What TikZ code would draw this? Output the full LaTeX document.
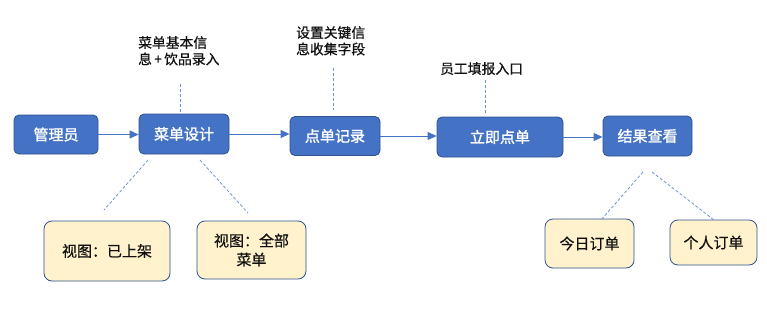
\documentclass[tikz,border=0pt]{standalone}
\usepackage{fontspec}
\usetikzlibrary{arrows.meta}
\newfontfamily\cjk{Noto Sans CJK SC}[FakeBold=0.6]
\newfontfamily\cjkbf{Noto Sans CJK SC}[FakeBold=1.6]
\definecolor{flowBlue}{HTML}{4472C4}
\definecolor{flowEdge}{HTML}{2F528F}
\definecolor{flowCream}{HTML}{FFF2CC}
\definecolor{flowDash}{HTML}{6F93D6}
\definecolor{flowText}{HTML}{111111}

\begin{document}
\begin{tikzpicture}[x=1pt,y=-1pt,font=\cjk\fontsize{13.8}{16.5}\selectfont,
  stepbox/.style={draw=flowEdge,fill=flowBlue,rounded corners=5pt,line width=0.8pt,
    text=white,font=\cjkbf\fontsize{15}{18}\selectfont,inner sep=0pt},
  viewbox/.style={draw=flowEdge,fill=flowCream,rounded corners=8pt,line width=0.8pt,
    text=flowText,font=\cjk\fontsize{15}{19}\selectfont,inner sep=0pt,align=center},
  note/.style={text=flowText,align=left,inner sep=0pt},
  flow/.style={flowBlue,line width=1pt,-{Triangle[length=9pt,width=8pt]}},
  dashline/.style={flowDash,line width=0.8pt,dash pattern=on 3pt off 2pt}]
  \useasboundingbox (0,0) rectangle (767,313);

  % main flow
  \node[stepbox,minimum width=84pt,minimum height=39pt] (admin) at (56,134.5) {管理员};
  \node[stepbox,minimum width=90pt,minimum height=40pt] (design) at (184,134) {菜单设计};
  \node[stepbox,minimum width=90pt,minimum height=39pt] (record) at (335,136) {点单记录};
  \node[stepbox,minimum width=126pt,minimum height=40pt] (order) at (500,137) {立即点单};
  \node[stepbox,minimum width=89pt,minimum height=40pt] (result) at (647.5,136) {结果查看};

  \draw[flow] (admin.east) -- (admin.east -| design.west);
  \draw[flow] (design.east) -- (design.east -| record.west);
  \draw[flow] (record.east) -- (record.east -| order.west);
  \draw[flow] (order.east) -- (order.east -| result.west);

  % notes above
  \node[note,anchor=north west] (menuNote) at (138,36) {菜单基本信\\息\,+\,饮品录入};
  \node[note,anchor=north west] (fieldNote) at (296,26) {设置关键信\\息收集字段};
  \node[note,anchor=north west] (entryNote) at (440,62) {员工填报入口};

  \coordinate (m1) at (180,84);   \coordinate (m2) at (180,112);
  \coordinate (f1) at (333,68);   \coordinate (f2) at (333,110);
  \coordinate (e1) at (485,80);   \coordinate (e2) at (485,115);
  \draw[dashline] (m1) -- (m2);
  \draw[dashline] (f1) -- (f2);
  \draw[dashline] (e1) -- (e2);

  % views below
  \node[viewbox,minimum width=126pt,minimum height=60pt] (shelf) at (107,251) {视图：已上架};
  \node[viewbox,minimum width=109pt,minimum height=58pt] (allMenu) at (251.5,250) {视图：全部\\菜单};
  \node[viewbox,minimum width=89pt,minimum height=49pt] (today) at (589.5,243.5) {今日订单};
  \node[viewbox,minimum width=87pt,minimum height=45pt] (mine) at (713.5,242.5) {个人订单};

  \coordinate (s1) at (148,160);  \coordinate (s2) at (104,210);
  \coordinate (a1) at (200,160);  \coordinate (a2) at (248,213);
  \coordinate (t1) at (643,172);  \coordinate (t2) at (601,220);
  \coordinate (p1) at (652,172);  \coordinate (p2) at (714,220);
  \draw[dashline] (s1) -- (s2);
  \draw[dashline] (a1) -- (a2);
  \draw[dashline] (t1) -- (t2);
  \draw[dashline] (p1) -- (p2);
\end{tikzpicture}
\end{document}
